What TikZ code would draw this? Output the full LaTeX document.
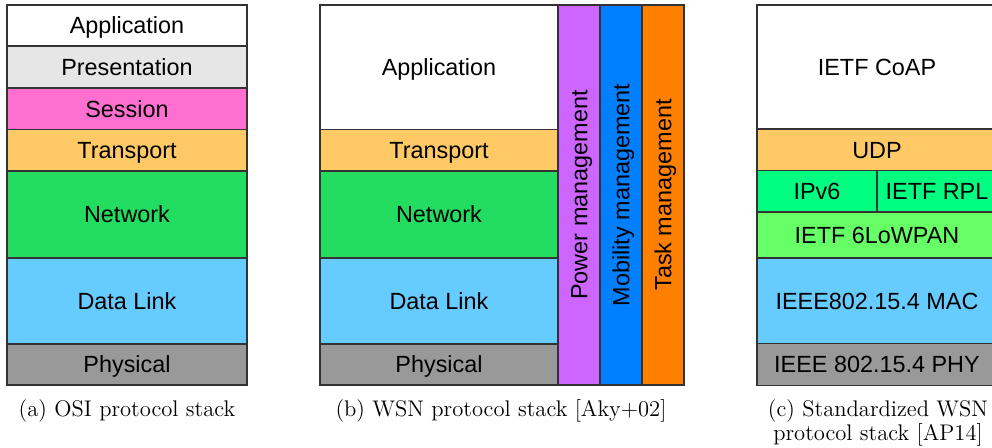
\documentclass[tikz,border=0pt]{standalone}
\usepackage{fontspec}
\newfontfamily\lsans{Liberation Sans}
\definecolor{cPres}{HTML}{E6E6E6}
\definecolor{cSess}{HTML}{FF6FCF}
\definecolor{cTrans}{HTML}{FFC966}
\definecolor{cNet}{HTML}{22DD60}
\definecolor{cLink}{HTML}{66CCFF}
\definecolor{cPhy}{HTML}{999999}
\definecolor{cPow}{HTML}{CC66FF}
\definecolor{cMob}{HTML}{0080FF}
\definecolor{cTask}{HTML}{FF8000}
\definecolor{cIP}{HTML}{00FF80}
\definecolor{cLow}{HTML}{66FF66}
\newcommand\lay[7]{%
  \draw[layer,fill=#5] (#1,#2) rectangle (#3,#4);
  \node[lbl] (#6) at ({(#1+#3)/2},{(#2+#4)/2+8.4}) {#7};}
\begin{document}
\begin{tikzpicture}[x=0.5pt,y=-0.5pt,
  layer/.style={draw=black!80, line width=0.6pt},
  lbl/.style={font=\lsans\fontsize{11.7}{14}\selectfont, text=black, inner sep=0pt, anchor=base},
  captxt/.style={font=\fontsize{11.3}{12.2}\selectfont, align=center, inner sep=0pt}]
\useasboundingbox (0,0) rectangle (992,448);
\clip (0,0) rectangle (992,448);
% (a) OSI
\lay{7}{5}{247}{46}{white}{aApp}{Application}
\lay{7}{46}{247}{88}{cPres}{aPres}{Presentation}
\lay{7}{88}{247}{129.5}{cSess}{aSess}{Session}
\lay{7}{129.5}{247}{171}{cTrans}{aTrans}{Transport}
\lay{7}{171}{247}{258}{cNet}{aNet}{Network}
\lay{7}{258}{247}{344}{cLink}{aLink}{Data Link}
\lay{7}{344}{247}{385}{cPhy}{aPhy}{Physical}
\node[captxt] (capa) at (127,411) {(a) OSI protocol stack};
% (b) WSN
\lay{320}{5}{558}{129.5}{white}{bApp}{Application}
\lay{320}{129.5}{558}{171}{cTrans}{bTrans}{Transport}
\lay{320}{171}{558}{258}{cNet}{bNet}{Network}
\lay{320}{258}{558}{344}{cLink}{bLink}{Data Link}
\lay{320}{344}{558}{385}{cPhy}{bPhy}{Physical}
\draw[layer,fill=cPow] (558,5) rectangle (600,385);
\node[lbl,rotate=90] (bPow) at (587.4,195) {Power management};
\draw[layer,fill=cMob] (600,5) rectangle (642,385);
\node[lbl,rotate=90] (bMob) at (629.4,195) {Mobility management};
\draw[layer,fill=cTask] (642,5) rectangle (684,385);
\node[lbl,rotate=90] (bTask) at (671.4,195) {Task management};
\node[captxt] (capb) at (501,411) {(b) WSN protocol stack [Aky+02]};
% (c) Standardized
\lay{757}{5}{997}{129}{white}{cApp}{IETF CoAP}
\lay{757}{129}{997}{170.5}{cTrans}{cUdp}{UDP}
\lay{757}{170.5}{877}{212}{cIP}{cIp}{IPv6}
\lay{877}{170.5}{997}{212}{cIP}{cRpl}{IETF RPL}
\lay{757}{212}{997}{258}{cLow}{cLowpan}{IETF 6LoWPAN}
\lay{757}{258}{997}{343.5}{cLink}{cMac}{IEEE802.15.4 MAC}
\lay{757}{343.5}{997}{385.5}{cPhy}{cPhyl}{IEEE 802.15.4 PHY}
\node[captxt] (capc) at (878,423) {(c) Standardized WSN\\protocol stack [AP14]};
\end{tikzpicture}
\end{document}
